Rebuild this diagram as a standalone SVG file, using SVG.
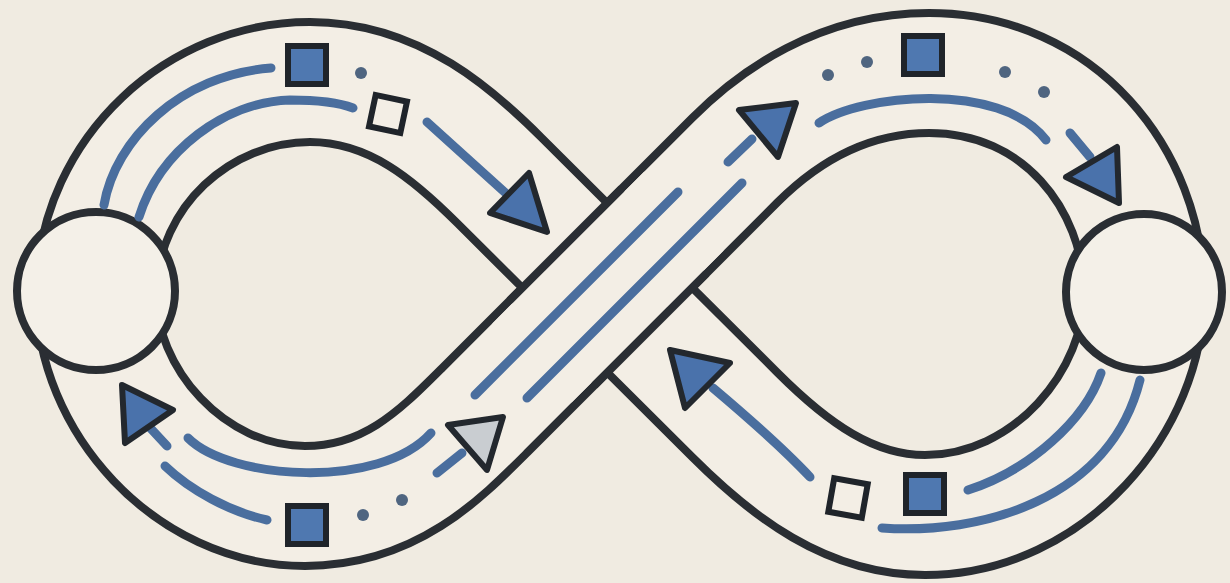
<svg xmlns="http://www.w3.org/2000/svg" width="1230" height="583" viewBox="0 0 1230 583">
  <style>
    .edge { fill: none; stroke: #2a2e33; stroke-width: 128; stroke-linejoin: round; }
    .fillband { fill: none; stroke: #f3eee5; stroke-width: 112; stroke-linejoin: round; }
    .lane { fill: none; stroke: #4a6e9e; stroke-width: 9; stroke-linecap: round; }
    .tri { fill: #4a72ab; stroke: #23282e; stroke-width: 6; stroke-linejoin: round; }
    .tri-open { fill: #c9cdd1; stroke: #23282e; stroke-width: 6; stroke-linejoin: round; }
    .sq { fill: #4f78b0; stroke: #1f242a; stroke-width: 6; }
    .sq-open { fill: #f3eee5; stroke: #1f242a; stroke-width: 6; }
    .dot { fill: #4f6580; }
    .hub { fill: #f4f0e8; stroke: #2a2e33; stroke-width: 8; }
  </style>
  <rect width="1230" height="583" fill="#f0ebe1"/>

  <g id="band">
    <path class="edge" d="M 560,335 L 735,160 C 775,120 840,73 929,73 C 1060,73 1143,180 1144,292 C 1145,400 1050,515 925,515 C 850,515 790,470 735,415 L 500,181 C 455,136 395,82 310,82 C 200,82 100,170 96,291 C 95,400 190,506 305,506 C 390,506 440,455 485,410 Z"/>
    <path class="fillband" d="M 560,335 L 735,160 C 775,120 840,73 929,73 C 1060,73 1143,180 1144,292 C 1145,400 1050,515 925,515 C 850,515 790,470 735,415 L 500,181 C 455,136 395,82 310,82 C 200,82 100,170 96,291 C 95,400 190,506 305,506 C 390,506 440,455 485,410 Z"/>
  </g>
  <g id="band-over">
    <path class="edge" style="stroke-linecap:butt" d="M 552,343 L 664,231"/>
    <path class="fillband" style="stroke-linecap:butt" d="M 532,363 L 684,211"/>
  </g>

  <g id="hub-left"><circle class="hub" cx="96" cy="291" r="79"/></g>
  <g id="hub-right"><circle class="hub" cx="1144" cy="292" r="78"/></g>

  <g id="connectors">
    <!-- top-left lobe -->
    <path class="lane" d="M 104,205 C 115,140 180,75 271,68"/>
    <path class="lane" d="M 139,217 C 160,150 225,102 290,100 C 320,100 340,103 353,108"/>
    <path class="lane" d="M 427,122 L 510,197"/>
    <polygon class="tri" points="490,213 529,173 547,232"/>
    <!-- over strand -->
    <path class="lane" d="M 475,395 L 678,192"/>
    <path class="lane" d="M 527,398 L 742,183"/>
    <path class="lane" d="M 728,162 L 752,139"/>
    <polygon class="tri" points="739,110 796,103 778,157"/>
    <path class="lane" d="M 437,473 L 462,453"/>
    <polygon class="tri-open" points="448,425 503,417 487,470"/>
    <!-- top-right lobe -->
    <path class="lane" d="M 819,123 C 860,95 1000,80 1046,140"/>
    <path class="lane" d="M 1070,133 L 1090,157"/>
    <polygon class="tri" points="1066,177 1117,147 1119,203"/>
    <!-- bottom-left lobe -->
    <path class="lane" d="M 188,438 C 230,480 380,490 431,433"/>
    <path class="lane" d="M 165,466 C 190,490 230,512 267,520"/>
    <path class="lane" d="M 167,446 L 141,418"/>
    <polygon class="tri" points="122,385 173,410 125,443"/>
    <!-- bottom-right lobe -->
    <path class="lane" d="M 968,490 C 1030,470 1085,420 1101,373"/>
    <path class="lane" d="M 882,528 C 980,535 1110,500 1140,380"/>
    <path class="lane" d="M 810,477 C 780,445 745,415 713,388"/>
    <polygon class="tri" points="670,350 730,363 685,408"/>
  </g>

  <g id="packets">
    <rect class="sq" x="288" y="46" width="38" height="38"/>
    <circle class="dot" cx="361" cy="73" r="6"/>
    <rect class="sq-open" x="372" y="98" width="32" height="32" transform="rotate(12 388 114)"/>

    <circle class="dot" cx="828" cy="75" r="6"/>
    <circle class="dot" cx="867" cy="62" r="6"/>
    <rect class="sq" x="904" y="36" width="38" height="38"/>
    <circle class="dot" cx="1005" cy="72" r="6"/>
    <circle class="dot" cx="1044" cy="92" r="6"/>

    <rect class="sq" x="288" y="506" width="38" height="38"/>
    <circle class="dot" cx="363" cy="515" r="6"/>
    <circle class="dot" cx="402" cy="500" r="6"/>

    <rect class="sq-open" x="831" y="481" width="34" height="34" transform="rotate(10 848 498)"/>
    <rect class="sq" x="906" y="475" width="38" height="38"/>
  </g>
</svg>
